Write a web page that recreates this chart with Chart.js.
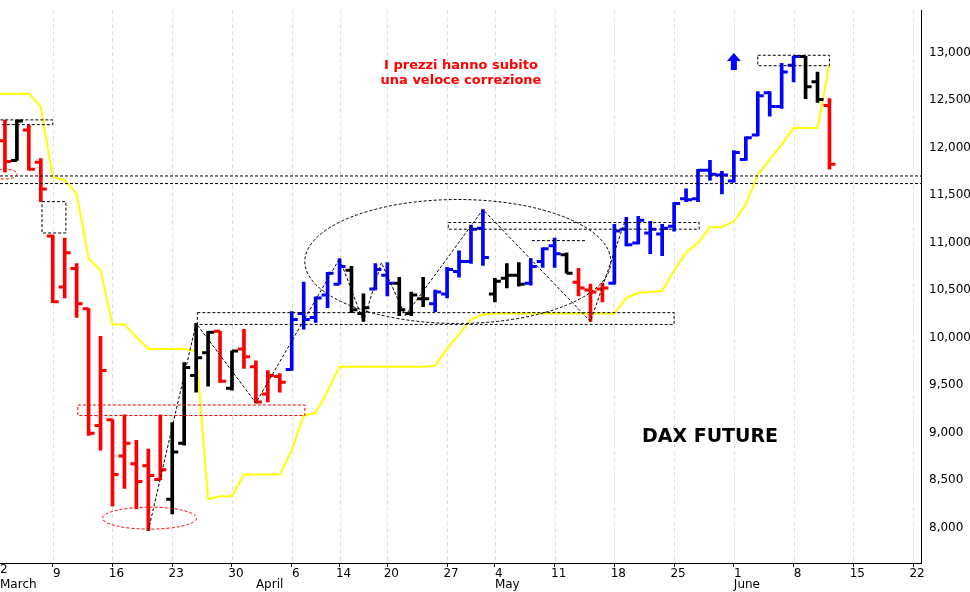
<!DOCTYPE html>
<html>
<head>
<meta charset="utf-8">
<script src="https://cdn.jsdelivr.net/npm/chart.js@4.4.1/dist/chart.umd.min.js"></script>
<style>
  html, body { margin: 0; padding: 0; background: #fff; }
  #wrap { width: 970px; height: 592px; }
</style>
</head>
<body>
<div id="wrap"><canvas id="grafico"></canvas></div>
<script>
// Giorni di contrattazione (indice 0 = 2 marzo), etichette ai primi giorni di ogni settimana
const tickIndex = [0, 5, 10, 15, 20, 25, 29, 33, 38, 42, 47, 52, 57, 62, 67, 72, 77];
const tickLabels = ['2', '9', '16', '23', '30', '6', '14', '20', '27', '4', '11', '18', '25', '1', '8', '15', '22'];
const monthLabels = { 0: 'March', 22: 'April', 42: 'May', 62: 'June' };

// Barre OHLC dal giorno 1 al giorno 70
const openP  = [12070,11864,12184,11843,11068,10531,10727,10304,9074,9136,8754,8672,8651,8506,8300,8888,9601,9839,10066,9467,9880,9694,9405,9591,9663,10252,10211,10448,10562,10707,10252,10510,10655,10572,10252,10407,10355,10459,10696,10800,11151,10459,10624,10655,10572,10800,10965,10872,10583,10500,10510,10572,11140,10996,11099,11089,11171,11461,11461,11760,11709,11647,11874,12132,12576,12432,12866,12958,12690,12442];
const highP  = [12287,12287,12235,11884,11078,11047,10779,10304,10014,9136,9188,8919,8826,9188,9105,9736,10149,10066,10066,9859,10087,9756,9653,9622,10273,10583,10428,10686,10831,10748,10459,10779,10789,10634,10479,10634,10500,10738,10913,11182,11347,10624,10779,10789,10831,10944,11047,10892,10727,10562,10572,11192,11264,11275,11223,11192,11419,11564,11771,11864,11750,11967,12111,12587,12587,12886,12958,12958,12793,12514];
const lowP   = [11740,11864,11760,11430,10366,10417,10211,8971,8816,8227,8413,8196,7969,8506,8145,8868,9426,9488,9529,9446,9674,9312,9322,9426,9653,10087,10159,10314,10562,10262,10169,10500,10438,10231,10231,10324,10273,10417,10634,10779,10758,10376,10521,10541,10552,10738,10738,10676,10438,10169,10376,10562,10965,10985,10882,10861,11120,11430,11430,11657,11512,11636,11864,12122,12328,12411,12690,12514,12473,11771];
const closeP = [11853,12277,11771,11564,10376,10892,10355,8992,9653,8558,8888,8486,8548,8610,8795,9684,9787,10056,9540,9859,9798,9322,9601,9529,10190,10190,10417,10676,10748,10293,10314,10717,10572,10293,10448,10407,10479,10717,10800,11140,10841,10593,10655,10562,10748,10934,10882,10676,10521,10479,10521,11120,10975,11233,11140,11151,11409,11450,11760,11719,11709,11946,12101,12545,12432,12793,12958,12638,12504,11822];
const barColor = 'rkrrrrrrrrrrrrkkkkrkrrrrbbbbbkkbbkkkbbbbbkkkbbbkrrrbbbbbbbbbbbbbbbbkkr';

// Linea gialla (stop), indici 0..70
const stopLine = [12566,12566,12566,12566,12432,11688,11657,11512,10831,10707,10138,10138,10004,9880,9880,9880,9880,9859,8300,8331,8331,8558,8558,8558,8558,8816,9178,9209,9436,9694,9694,9694,9694,9694,9694,9694,9694,9704,9880,10035,10190,10242,10252,10252,10252,10252,10252,10252,10252,10252,10252,10252,10252,10417,10469,10479,10490,10707,10893,10996,11161,11161,11223,11399,11709,11874,12029,12204,12204,12204,12876];

const yTicks = [8000, 8500, 9000, 9500, 10000, 10500, 11000, 11500, 12000, 12500, 13000];

const colori = { r: '#ff0000', k: '#000000', b: '#0000ff' };
const barre = openP.map((o, i) => ({ x: i + 1, y: [lowP[i], highP[i]] }));
const coloriBarre = openP.map((o, i) => colori[barColor[i]]);
const linea = stopLine.map((v, i) => ({ x: i, y: v }));

// Tacche di apertura (sinistra) e chiusura (destra)
const tacchePlugin = {
  id: 'tacche',
  afterDatasetsDraw(chart) {
    const ctx = chart.ctx, xs = chart.scales.x, ys = chart.scales.y;
    ctx.save();
    ctx.lineWidth = 3;
    openP.forEach((o, i) => {
      const px = xs.getPixelForValue(i + 1);
      ctx.strokeStyle = coloriBarre[i];
      ctx.beginPath();
      ctx.moveTo(px - 6, ys.getPixelForValue(o));
      ctx.lineTo(px, ys.getPixelForValue(o));
      ctx.moveTo(px, ys.getPixelForValue(closeP[i]));
      ctx.lineTo(px + 6, ys.getPixelForValue(closeP[i]));
      ctx.stroke();
    });
    ctx.restore();
  }
};

// Disegni dell'analista: rettangoli, ellissi, linee tratteggiate, testi
const disegniPlugin = {
  id: 'disegni',
  afterDatasetsDraw(chart) {
    const ctx = chart.ctx, xs = chart.scales.x, ys = chart.scales.y;
    const X = v => xs.getPixelForValue(v), Y = v => ys.getPixelForValue(v);
    const area = chart.chartArea;
    ctx.save();
    ctx.lineWidth = 1;
    ctx.setLineDash([3, 2]);
    function rett(x1, x2, y1, y2, col) {
      ctx.strokeStyle = col;
      ctx.strokeRect(X(x1), Y(y1), X(x2) - X(x1), Y(y2) - Y(y1));
    }
    function ell(cx, cy, rx, ry, col) {
      ctx.strokeStyle = col;
      ctx.beginPath();
      ctx.ellipse(X(cx), Y(cy), rx, ry, 0, 0, Math.PI * 2);
      ctx.stroke();
    }
    // linee orizzontali
    ctx.strokeStyle = '#000';
    [11700, 11620].forEach(v => {
      ctx.beginPath(); ctx.moveTo(area.left, Y(v)); ctx.lineTo(area.right, Y(v)); ctx.stroke();
    });
    rett(0.2, 5, 12290, 12240, '#000');
    rett(4.1, 6.1, 11430, 11100, '#000');
    rett(7.1, 26.1, 9290, 9180, '#ff0000');
    ell(13.1, 8100, 47, 11, '#ff0000');
    ell(1, 11720, 12, 5, '#ff0000');
    rett(17.1, 57, 10262, 10138, '#000');
    rett(38.1, 59.1, 11210, 11140, '#000');
    rett(64, 70, 12970, 12860, '#000');
    ctx.strokeStyle = '#000';
    ctx.beginPath(); ctx.moveTo(X(45.1), Y(11020)); ctx.lineTo(X(49.7), Y(11020)); ctx.stroke();
    ell(38.9, 10800, 153, 62, '#000');
    // linee a zig-zag
    const zig = [[13, 7969], [17, 10149], [22, 9312], [29, 10831], [31, 10169], [32.5, 10789], [34.5, 10231], [41, 11347], [50, 10169], [53, 11264]];
    ctx.beginPath();
    zig.forEach((p, k) => k ? ctx.lineTo(X(p[0]), Y(p[1])) : ctx.moveTo(X(p[0]), Y(p[1])));
    ctx.stroke();
    ctx.setLineDash([]);
    // freccia blu
    const ax = X(62), ay = Y(12900);
    ctx.fillStyle = '#0000ff';
    ctx.beginPath();
    ctx.moveTo(ax, ay - 9); ctx.lineTo(ax + 7, ay - 1); ctx.lineTo(ax + 3, ay - 1);
    ctx.lineTo(ax + 3, ay + 8); ctx.lineTo(ax - 3, ay + 8); ctx.lineTo(ax - 3, ay - 1);
    ctx.lineTo(ax - 7, ay - 1); ctx.closePath(); ctx.fill();
    // testi
    ctx.textAlign = 'center';
    ctx.textBaseline = 'middle';
    ctx.fillStyle = '#ff0000';
    ctx.font = 'bold 13px "DejaVu Sans", sans-serif';
    ctx.fillText('I prezzi hanno subito', 461, 66);
    ctx.fillText('una veloce correzione', 461, 81);
    ctx.fillStyle = '#000';
    ctx.font = 'bold 19px "DejaVu Sans", sans-serif';
    ctx.fillText('DAX FUTURE', 710, 437);
    // nomi dei mesi e prima etichetta tagliata
    ctx.font = '12px "DejaVu Sans", sans-serif';
    ctx.textAlign = 'left';
    Object.keys(monthLabels).forEach(k => ctx.fillText(monthLabels[k], Math.max(0, X(+k)), 585));
    ctx.fillText(tickLabels[0], 0, 570);
    ctx.restore();
  }
};

new Chart(document.getElementById('grafico'), {
  type: 'bar',
  data: {
    datasets: [
      { type: 'line', data: linea, borderColor: '#ffff00', borderWidth: 2, pointRadius: 0, tension: 0, order: 2 },
      { type: 'bar', data: barre, backgroundColor: coloriBarre, barThickness: 3, order: 1 }
    ]
  },
  options: {
    responsive: true,
    maintainAspectRatio: false,
    animation: false,
    layout: { padding: { top: 0, left: 0, right: 0, bottom: 0 } },
    plugins: { legend: { display: false }, tooltip: { enabled: false } },
    scales: {
      x: {
        type: 'linear',
        offset: false,
        min: 0.586,
        max: 77.66,
        afterBuildTicks: s => { s.ticks = tickIndex.map(v => ({ value: v })); },
        afterFit: s => { s.height = 29; s.paddingLeft = 0; s.paddingRight = 0; },
        grid: { drawOnChartArea: false, color: '#000', tickLength: 4, drawTicks: true, offset: false },
        border: { color: '#000', dash: [] },
        ticks: {
          color: '#000',
          font: { size: 12, family: '"DejaVu Sans", sans-serif' },
          labelOffset: 4,
          padding: 0,
          maxRotation: 0,
          autoSkip: false,
          callback: v => tickLabels[tickIndex.indexOf(v)]
        }
      },
      y: {
        position: 'right',
        min: 7628,
        max: 13444,
        afterBuildTicks: s => { s.ticks = yTicks.map(v => ({ value: v })); },
        afterFit: s => { s.width = 49; },
        grid: { display: false, drawTicks: true, tickLength: 5 },
        border: { color: '#000' },
        ticks: { color: '#000', font: { size: 12, family: '"DejaVu Sans", sans-serif' }, padding: 3 }
      }
    }
  },
  plugins: [tacchePlugin, disegniPlugin, {
    id: 'griglia',
    beforeDatasetsDraw(chart) {
      // griglia verticale tratteggiata
      const ctx = chart.ctx, xs = chart.scales.x, a = chart.chartArea;
      ctx.save();
      ctx.strokeStyle = '#dcdcf4';
      ctx.setLineDash([4, 3]);
      ctx.lineWidth = 1;
      tickIndex.forEach(v => {
        const px = Math.round(xs.getPixelForValue(v)) + 0.5;
        if (px < a.left || px > a.right) return;
        ctx.beginPath(); ctx.moveTo(px, a.top); ctx.lineTo(px, a.bottom); ctx.stroke();
      });
      ctx.restore();
    }
  }]
});
</script>
</body>
</html>
